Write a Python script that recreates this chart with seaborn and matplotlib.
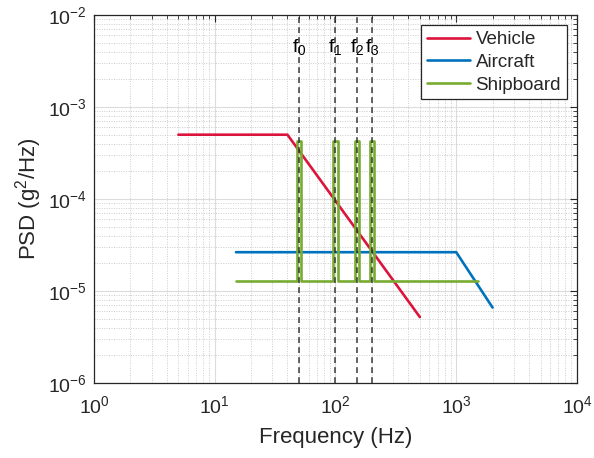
import numpy as np
import pandas as pd
import matplotlib
matplotlib.use("Agg")
import matplotlib.pyplot as plt
import matplotlib.ticker as mticker
import seaborn as sns

# Random-vibration PSD profiles
vehicle_f = [5, 40, 500]
vehicle_psd = [5.0e-4, 5.0e-4, 5.2e-6]

aircraft_f = [15, 1000, 2000]
aircraft_psd = [2.64e-5, 2.64e-5, 6.6e-6]

ship_f = [15, 48, 48, 52, 52, 96, 96, 104, 104,
          144, 144, 156, 156, 192, 192, 208, 208, 1500]
ship_psd = [1.27e-5, 1.27e-5, 4.27e-4, 4.27e-4, 1.27e-5,
            1.27e-5, 4.27e-4, 4.27e-4, 1.27e-5,
            1.27e-5, 4.27e-4, 4.27e-4, 1.27e-5,
            1.27e-5, 4.27e-4, 4.27e-4, 1.27e-5, 1.27e-5]

# Sine-dwell reference frequencies
ref_freqs = [50, 100, 150, 200]
ref_labels = ["f$_0$", "f$_1$", "f$_2$", "f$_3$"]

series_names = ["Vehicle", "Aircraft", "Shipboard"]
series_colors = ["#DC143C", "#0072BD", "#77AC30"]

sns.set_style("white")
plt.rcParams["font.family"] = ["Liberation Sans", "DejaVu Sans"]
plt.rcParams["mathtext.fontset"] = "custom"
plt.rcParams["mathtext.rm"] = "Liberation Sans"
plt.rcParams["mathtext.it"] = "Liberation Sans"
plt.rcParams["mathtext.default"] = "regular"

fig = plt.figure(figsize=(5.94, 4.58), dpi=100)
ax = fig.add_axes([0.1582, 0.1638, 0.8132, 0.8034])
ax.set_xscale("log")
ax.set_yscale("log")

for name, fx, py, col in zip(series_names,
                             [vehicle_f, aircraft_f, ship_f],
                             [vehicle_psd, aircraft_psd, ship_psd],
                             series_colors):
    sns.lineplot(x=fx, y=py, ax=ax, color=col, linewidth=1.9,
                 estimator=None, sort=False, label=name)

for f, lab in zip(ref_freqs, ref_labels):
    ax.axvline(f, color="#2a2a2a", linestyle=(0, (3.5, 2.5)), linewidth=1.2,
               alpha=0.85, zorder=3)
    ax.text(f, 4.5e-3, lab, ha="center", va="center", fontsize=14, color="black")

ax.set_xlim(1, 1e4)
ax.set_ylim(1e-6, 1e-2)
ax.xaxis.set_major_locator(mticker.LogLocator(base=10, numticks=10))
ax.yaxis.set_major_locator(mticker.LogLocator(base=10, numticks=10))
ax.xaxis.set_minor_locator(mticker.LogLocator(base=10, subs=np.arange(2, 10), numticks=20))
ax.yaxis.set_minor_locator(mticker.LogLocator(base=10, subs=np.arange(2, 10), numticks=20))
ax.xaxis.set_minor_formatter(mticker.NullFormatter())
ax.yaxis.set_minor_formatter(mticker.NullFormatter())

ax.grid(which="major", color="#dcdcdc", linewidth=0.8, linestyle="-")
ax.grid(which="minor", color="#cccccc", linewidth=0.7, linestyle=(0, (1, 1.5)))
ax.set_axisbelow(True)

ax.tick_params(which="both", direction="in", top=True, right=True,
               colors="#262626", labelcolor="#262626")
ax.tick_params(which="major", length=5, width=0.8, labelsize=14)
ax.tick_params(axis="x", which="major", pad=9)
ax.tick_params(axis="y", which="major", pad=5)
ax.tick_params(which="minor", length=3, width=0.6)
for s in ax.spines.values():
    s.set_color("#262626")
    s.set_linewidth(0.9)

ax.set_xlabel("Frequency (Hz)", fontsize=16, color="#262626", labelpad=7)
ax.set_ylabel("PSD (g$^2$/Hz)", fontsize=16, color="#262626", labelpad=3)

leg = ax.legend(loc="upper right", fontsize=13.5, frameon=True, fancybox=False,
                edgecolor="#262626", framealpha=1, borderpad=0.3,
                handlelength=2.3, handletextpad=0.3, labelspacing=0.3,
                borderaxespad=0.55)
leg.get_frame().set_linewidth(0.9)

fig.savefig("out.png", dpi=100)
